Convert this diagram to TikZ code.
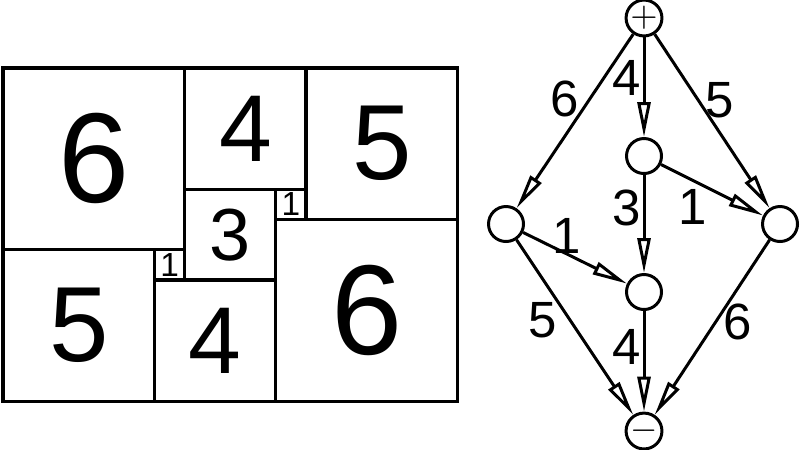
\documentclass[tikz,border=0pt]{standalone}
\usepackage{fontspec}
\setmainfont{Liberation Sans}
\usetikzlibrary{arrows.meta}

\begin{document}
\begin{tikzpicture}[
  x=0.1mm, y=-0.1mm,
  every node/.style={font=\rmfamily},
  sq/.style={draw, line width=0.95pt, inner sep=0pt},
  vert/.style={draw, circle, line width=0.85pt, inner sep=0pt, minimum size=3.5mm},
  edge/.style={line width=0.85pt, -{Triangle[open, length=3.5mm, width=1.3mm]}},
  lbl/.style={font=\fontsize{14.5}{14.5}\selectfont, inner sep=0pt},
]

\useasboundingbox (0,0) rectangle (800,449);

% squared rectangle, 15 x 11
\foreach \x/\y/\s/\f in {0/0/6/36.4, 6/0/4/27, 10/0/5/30.4, 6/4/3/21, 9/4/1/9.5,
                         0/6/5/30.4, 5/6/1/9.5, 5/7/4/27, 9/5/6/36.4}
  \node[sq, minimum size=\s*3.03mm, font=\fontsize{\f}{\f}\selectfont]
    (sq-\x-\y) at (3+\x*30.3+\s*15.15, 68+\y*30.3+\s*15.15) {\s};

% electrical network
\node[vert] (plus)  at (644,18)  {\fontsize{10}{10}\selectfont $+$};
\node[vert] (top)   at (644,156) {};
\node[vert] (left)  at (506,224) {};
\node[vert] (right) at (780,224) {};
\node[vert] (bot)   at (644,292) {};
\node[vert] (minus) at (644,431) {\fontsize{10}{10}\selectfont $-$};

\draw[edge] (plus) -- (left);
\draw[edge] (plus) -- (top);
\draw[edge] (plus) -- (right);
\draw[edge] (top) -- (bot);
\draw[edge] (top) -- (right);
\draw[edge] (left) -- (bot);
\draw[edge] (left) -- (minus);
\draw[edge] (bot) -- (minus);
\draw[edge] (right) -- (minus);

\node[lbl] (l-pl) at (565,99)  {6};
\node[lbl] (l-pt) at (627,78)  {4};
\node[lbl] (l-pr) at (720,100) {5};
\node[lbl] (l-tb) at (627,208) {3};
\node[lbl] (l-tr) at (693,207) {1};
\node[lbl] (l-lb) at (567,236) {1};
\node[lbl] (l-lm) at (543,320) {5};
\node[lbl] (l-bm) at (627,347) {4};
\node[lbl] (l-rm) at (738,322) {6};

\end{tikzpicture}
\end{document}
